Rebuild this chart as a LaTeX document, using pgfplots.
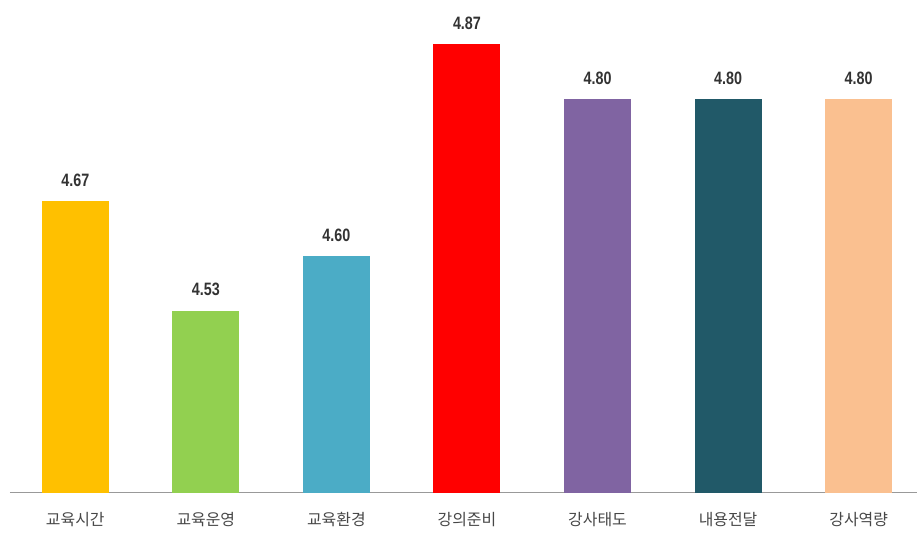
\documentclass[border=0pt]{standalone}
\usepackage{pgfplots}
\pgfplotsset{compat=1.18}
\usepackage{fontspec}
\setmainfont{Liberation Sans}
\newfontfamily\numf[FakeStretch=0.8]{Liberation Sans}
\newfontfamily\kr{Noto Sans CJK KR}
\definecolor{c1}{HTML}{FFC000}
\definecolor{c2}{HTML}{92D050}
\definecolor{c3}{HTML}{4BACC6}
\definecolor{c4}{HTML}{FF0000}
\definecolor{c5}{HTML}{8064A2}
\definecolor{c6}{HTML}{215968}
\definecolor{c7}{HTML}{FAC090}
\begin{document}
\begin{tikzpicture}[x=1bp,y=1bp]
\path (0,0) rectangle (918,542);
\begin{axis}[
  at={(10bp,49bp)}, anchor=south west,
  scale only axis, width=908bp, height=493bp,
  xmin=-0.5, xmax=6.45, ymin=4.298, ymax=4.926,
  axis x line*=bottom, axis y line=none,
  x axis line style={draw=black!40, line width=1.2pt, -},
  xtick={0,...,6}, major tick length=0pt,
  xticklabels={교육시간,교육운영,교육환경,강의준비,강사태도,내용전달,강사역량},
  xticklabel style={font=\kr\fontsize{16}{16}\selectfont, text=black!72, yshift=-16bp},
  ybar, bar width=0.513, bar shift=0pt,
  nodes near coords,
  nodes near coords style={font=\numf\bfseries\fontsize{18}{18}\selectfont, text=black!80, yshift=11bp},
  point meta=explicit symbolic,
  clip=false,
]
\addplot[fill=c1, draw=none] coordinates {(0,4.67) [4.67]};
\addplot[fill=c2, draw=none] coordinates {(1,4.53) [4.53]};
\addplot[fill=c3, draw=none] coordinates {(2,4.60) [4.60]};
\addplot[fill=c4, draw=none] coordinates {(3,4.87) [4.87]};
\addplot[fill=c5, draw=none] coordinates {(4,4.80) [4.80]};
\addplot[fill=c6, draw=none] coordinates {(5,4.80) [4.80]};
\addplot[fill=c7, draw=none] coordinates {(6,4.80) [4.80]};
\end{axis}
\end{tikzpicture}
\end{document}
